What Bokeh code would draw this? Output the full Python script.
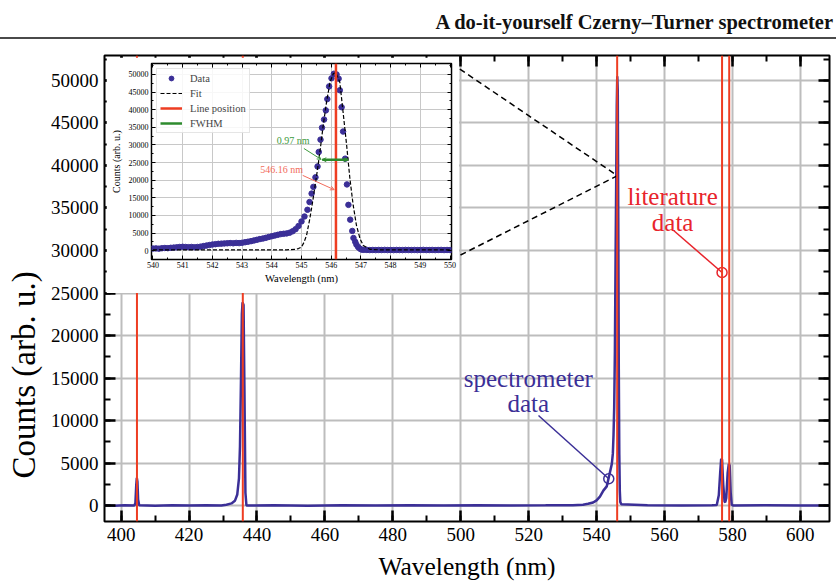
from bokeh.plotting import figure
from bokeh.layouts import column
from bokeh.models import (Range1d, LinearAxis, SingleIntervalTicker, NumeralTickFormatter,
                          CustomJSTickFormatter, Div, Legend, LegendItem, Arrow, OpenHead, Span,
                          Title)
from bokeh.core.properties import value
from bokeh.embed import file_html
from bokeh.resources import INLINE

FONT = "Liberation Serif"
BLUE = "#3b2f97"
RED = "#ee3d22"
TXT_RED = "#e8242c"
GREEN = "#2e8b2e"

# ---------------- data ----------------
header_text = "A do-it-yourself Czerny\u2013Turner spectrometer"
x_label = "Wavelength (nm)"
y_label = "Counts (arb. u.)"

spec_wl = [395.1, 398.0, 401.0, 403.9, 404.2, 404.45, 404.62, 404.8, 405.0, 405.3, 410.0, 415.0,
           420.0, 425.0, 429.5, 431.0, 432.5, 433.5, 434.2, 434.7, 435.0, 435.3, 435.55, 435.75,
           436.05, 436.3, 436.6, 436.9, 445.0, 455.0, 465.0, 475.0, 485.0, 495.0, 505.0, 515.0,
           525.0, 533.0, 536.0, 537.5, 539.0, 540.0, 541.0, 542.0, 543.0, 543.8, 544.5, 544.8,
           545.0, 545.2, 545.4, 545.6, 545.8, 545.95, 546.1, 546.25, 546.4, 546.55, 546.7, 546.85,
           547.0, 547.3, 555.0, 565.0, 574.0, 575.4, 576.0, 576.4, 576.7, 576.95, 577.3, 577.7,
           577.9, 578.2, 578.6, 578.95, 579.2, 579.5, 579.8, 580.3, 590.0, 600.0, 608.6]
spec_counts = [20, -30, 40, 0, 300, 2400, 3250, 2800, 700, 30, -20, 30,
               0, 20, 0, 100, 250, 550, 1300, 3200, 7000, 15000, 22500, 23900,
               23600, 14000, 1500, 0, 30, -20, 20, 0, 30, -10, 20, 0,
               20, 40, 100, 200, 350, 600, 1050, 1750, 2250, 3650, 4900, 6100,
               8300, 11600, 18100, 29000, 38800, 47000, 50500, 48800, 33800, 16000, 6000, 1700,
               400, 150, 20, -10, 20, 50, 1200, 3800, 5500, 5400, 2500, 450,
               400, 900, 3800, 4900, 4700, 1500, 100, 0, 20, -10, 10]

lit_lines = [404.66, 435.83, 546.07, 576.96, 579.07]

inset_wl = [540.0, 540.1, 540.2, 540.3, 540.4, 540.5, 540.6, 540.7, 540.8, 540.9,
            541.0, 541.1, 541.2, 541.3, 541.4, 541.5, 541.6, 541.7, 541.8, 541.9,
            542.0, 542.1, 542.2, 542.3, 542.4, 542.5, 542.6, 542.7, 542.8, 542.9,
            543.0, 543.1, 543.2, 543.3, 543.4, 543.5, 543.6, 543.7, 543.8, 543.9,
            544.0, 544.1, 544.2, 544.3, 544.4, 544.5, 544.6, 544.7, 544.8, 544.9,
            545.0, 545.1, 545.2, 545.27, 545.34, 545.40, 545.47, 545.54, 545.58, 545.64,
            545.69, 545.76, 545.82, 545.87, 545.93, 546.01, 546.09, 546.18, 546.25, 546.29,
            546.35, 546.40, 546.47, 546.53, 546.58, 546.64, 546.71, 546.75, 546.81, 546.85,
            546.91, 546.97, 547.03, 547.1, 547.2, 547.3, 547.4, 547.5, 547.6, 547.7,
            547.8, 547.9, 548.0, 548.1, 548.2, 548.3, 548.4, 548.5, 548.6, 548.7,
            548.8, 548.9, 549.0, 549.1, 549.2, 549.3, 549.4, 549.5, 549.6, 549.7,
            549.8, 549.9, 550.0]
inset_counts = [600, 650, 580, 700, 760, 720, 820, 880, 950, 1050,
                1100, 1050, 1000, 1050, 980, 1050, 1150, 1300, 1450, 1600,
                1750, 1850, 1950, 2000, 2050, 2100, 2150, 2100, 2200, 2150,
                2250, 2400, 2550, 2700, 2900, 3100, 3300, 3450, 3650, 3900,
                4100, 4300, 4500, 4700, 4800, 4900, 5100, 5500, 6100, 7000,
                8300, 9700, 11600, 13800, 16200, 18100, 20800, 23900, 28000, 31500,
                34900, 37200, 39800, 43000, 46600, 48900, 50200, 50000, 48800, 45500,
                40700, 33800, 26100, 18800, 13000, 8800, 5600, 3600, 2500, 1700,
                1000, 560, 300, 250, 220, 180, 200, 170, 210, 190,
                230, 180, 200, 160, 210, 190, 170, 220, 200, 180,
                210, 170, 200, 230, 180, 190, 210, 170, 200, 220,
                180, 200, 190]

fit_wl = [540.0, 544.5, 544.8, 544.9, 545.0, 545.08, 545.17, 545.28, 545.39, 545.51,
          545.62, 545.73, 545.84, 545.96, 546.07, 546.16, 546.29, 546.40, 546.52, 546.63,
          546.74, 546.85, 546.97, 547.08, 547.30, 547.6, 550.0]
fit_counts = [250, 250, 400, 600, 1040, 2300, 4350, 9070, 14700, 21400,
              28000, 35500, 42000, 47800, 50200, 50500, 47800, 39300, 29900, 20400,
              12900, 7200, 3400, 1500, 380, 250, 250]

line_pos = 546.16
fwhm_x = [545.70, 546.57]
fwhm_y = 25800
fwhm_label = "0.97 nm"
pos_label = "546.16 nm"

# annotation anchors (data coordinates)
fwhm_text_xy = (544.72, 31300)
fwhm_arrow = (545.08, 29000, 545.66, 25900)
pos_text_xy = (544.33, 23060)
pos_arrow = (545.04, 21360, 546.10, 17300)

lit_text = ["literature", "data"]
lit_text_x = 562.4
lit_text_y = [36350, 33290]
lit_leader_x = [562.7, 576.96]
lit_leader_y = [32350, 27410]

spec_text = ["spectrometer", "data"]
spec_text_x = 519.9
spec_text_y = [14910, 11970]
spec_leader_x = [522.9, 543.6]
spec_leader_y = [10590, 3150]

conn_x = [497.3, 546.16]
conn_top_y = [52000, 38800]
conn_bot_y = [28940, 38800]

main_xr = (395.1, 608.6)
main_yr = (-1880, 52940)
ins_xr = (539.95, 550.05)
ins_yr = (-2500, 53100)

# ---------------- helpers ----------------
def frame_axes(fig, xt, yt, tin, tmin, wmaj, wmin):
    top = LinearAxis(ticker=xt, formatter=CustomJSTickFormatter(code="return ''"),
                     major_label_standoff=0)
    right = LinearAxis(ticker=yt, formatter=CustomJSTickFormatter(code="return ''"),
                       major_label_standoff=0)
    fig.add_layout(top, "above")
    fig.add_layout(right, "right")
    for ax in fig.axis:
        ax.axis_line_color = None
        ax.major_tick_in = tin
        ax.major_tick_out = 0
        ax.minor_tick_in = tmin
        ax.minor_tick_out = 0
        ax.major_tick_line_width = wmaj
        ax.minor_tick_line_width = wmin
        ax.major_tick_line_color = "black"
        ax.minor_tick_line_color = "black"
        ax.major_label_text_font = FONT
        ax.axis_label_text_font = FONT
        ax.axis_label_text_font_style = "normal"
        ax.major_label_text_color = "black"
        ax.axis_label_text_color = "black"


# ---------------- header ----------------
header = Div(text=header_text, width=836, height=39, margin=0,
             styles={"font-family": FONT, "font-weight": "bold", "font-size": "20.5px",
                     "text-align": "right", "border-bottom": "2px solid #4a4a4a",
                     "line-height": "26px", "color": "#111111", "padding-top": "9px",
                     "padding-right": "3px", "box-sizing": "border-box"})

# ---------------- main figure ----------------
p = figure(width=836, height=545, x_range=Range1d(*main_xr), y_range=Range1d(*main_yr),
           output_backend="svg", toolbar_location=None,
           min_border_left=104, min_border_right=7, min_border_top=16, min_border_bottom=63)
p.outline_line_color = "black"
p.outline_line_width = 2
mx = SingleIntervalTicker(interval=20, num_minor_ticks=2)
my = SingleIntervalTicker(interval=5000, num_minor_ticks=2)
p.xaxis.ticker = mx
p.yaxis.ticker = my
frame_axes(p, mx, my, 11, 6, 2.5, 2)
p.below[0].axis_label = x_label
p.left[0].formatter = NumeralTickFormatter(format="0")
for ax in p.xaxis + p.yaxis:
    ax.major_label_text_font_size = "19px"
p.below[0].major_label_standoff = 6
p.left[0].major_label_standoff = 6
p.below[0].axis_label_text_font_size = "25.5px"
p.below[0].axis_label_standoff = 8
p.add_layout(Title(text=y_label, align="left", offset=43, text_font=FONT,
                   text_font_size="33px", text_font_style="normal", text_color="black",
                   vertical_align="top", standoff=8), "left")
p.grid.grid_line_color = "#bdbdbd"
p.grid.grid_line_width = 2

p.line(spec_wl, spec_counts, line_color=BLUE, line_width=2.5)
for wl in lit_lines:
    p.add_layout(Span(location=wl, dimension="height", line_color=RED, line_width=2))

p.line(conn_x, conn_top_y, line_color="black", line_dash="6 4", line_width=1.5)
p.line(conn_x, conn_bot_y, line_color="black", line_dash="6 4", line_width=1.5)

p.text(x=[lit_text_x] * 2, y=lit_text_y, text=lit_text, text_color=TXT_RED,
       text_font=value(FONT), text_font_size="25px", text_align="center",
       text_baseline="alphabetic")
p.line(lit_leader_x, lit_leader_y, line_color=TXT_RED, line_width=1.5)
p.scatter([lit_leader_x[1]], [lit_leader_y[1]], marker="circle", size=10, fill_color=None,
          line_color=TXT_RED, line_width=1.5)

p.text(x=[spec_text_x] * 2, y=spec_text_y, text=spec_text, text_color=BLUE,
       text_font=value(FONT), text_font_size="25px", text_align="center",
       text_baseline="alphabetic")
p.line(spec_leader_x, spec_leader_y, line_color=BLUE, line_width=1.5)
p.scatter([spec_leader_x[1]], [spec_leader_y[1]], marker="circle", size=10, fill_color=None,
          line_color=BLUE, line_width=1.5)

# ---------------- inset figure (separate root, absolutely positioned) ----------------
ins = figure(width=353, height=236, x_range=Range1d(*ins_xr), y_range=Range1d(*ins_yr),
             output_backend="svg", toolbar_location=None,
             min_border_left=45, min_border_right=8, min_border_top=6, min_border_bottom=34,
             styles={"position": "absolute", "left": "106px", "top": "57px"})
ins.outline_line_color = "black"
ins.outline_line_width = 1.5
ix = SingleIntervalTicker(interval=1, num_minor_ticks=2)
iy = SingleIntervalTicker(interval=5000, num_minor_ticks=2)
ins.xaxis.ticker = ix
ins.yaxis.ticker = iy
frame_axes(ins, ix, iy, 4, 2, 1, 1)
ins.below[0].axis_label = x_label
ins.left[0].axis_label = y_label
ins.left[0].formatter = NumeralTickFormatter(format="0")
for ax in ins.xaxis + ins.yaxis:
    ax.major_label_text_font_size = "8px"
ins.below[0].major_label_standoff = 2
ins.left[0].major_label_standoff = 3
ins.below[0].axis_label_text_font_size = "10.5px"
ins.left[0].axis_label_text_font_size = "10px"
ins.below[0].axis_label_standoff = 2
ins.left[0].axis_label_standoff = 4
ins.grid.grid_line_color = "#c8c8c8"
ins.grid.grid_line_width = 1

r_data = ins.scatter(inset_wl, inset_counts, size=5.5, fill_color=BLUE, line_color=BLUE)
r_fit = ins.line(fit_wl, fit_counts, line_color="black", line_dash="4 2", line_width=1.2)
r_pos = ins.line([line_pos, line_pos], list(ins_yr), line_color=RED, line_width=2.5)
r_fwhm = ins.line(fwhm_x, [fwhm_y, fwhm_y], line_color=GREEN, line_width=1)
ins.add_layout(Arrow(start=OpenHead(size=4, line_color=GREEN, line_width=1),
                     end=OpenHead(size=4, line_color=GREEN, line_width=1),
                     x_start=fwhm_x[0], y_start=fwhm_y, x_end=fwhm_x[1], y_end=fwhm_y,
                     line_color=GREEN, line_width=1))
ins.add_layout(Arrow(end=OpenHead(size=4, line_color="#3d9b3d", line_width=1),
                     x_start=fwhm_arrow[0], y_start=fwhm_arrow[1],
                     x_end=fwhm_arrow[2], y_end=fwhm_arrow[3],
                     line_color="#3d9b3d", line_width=1))
ins.add_layout(Arrow(end=OpenHead(size=4, line_color="#f26b5b", line_width=1),
                     x_start=pos_arrow[0], y_start=pos_arrow[1],
                     x_end=pos_arrow[2], y_end=pos_arrow[3],
                     line_color="#f26b5b", line_width=1))
ins.text(x=[fwhm_text_xy[0]], y=[fwhm_text_xy[1]], text=[fwhm_label], text_color="#3d9b3d",
         text_font=value(FONT), text_font_size="10px", text_align="center",
         text_baseline="middle")
ins.text(x=[pos_text_xy[0]], y=[pos_text_xy[1]], text=[pos_label], text_color="#f26b5b",
         text_font=value(FONT), text_font_size="10px", text_align="center",
         text_baseline="middle")

legend = Legend(items=[LegendItem(label="Data", renderers=[r_data]),
                       LegendItem(label="Fit", renderers=[r_fit]),
                       LegendItem(label="Line position", renderers=[r_pos]),
                       LegendItem(label="FWHM", renderers=[r_fwhm])],
                location="top_left", margin=5, padding=3, spacing=3,
                glyph_width=22, glyph_height=12, label_height=12, label_standoff=8,
                label_text_font=FONT, label_text_font_size="10.5px",
                border_line_color="#cccccc", border_line_width=1,
                background_fill_color="white", background_fill_alpha=0.85)
ins.add_layout(legend)
r_fwhm.glyph.line_width = 2.5

layout = column(header, p, spacing=0)

with open("out.html", "w", encoding="utf-8") as f:
    f.write(file_html([layout, ins], INLINE))
